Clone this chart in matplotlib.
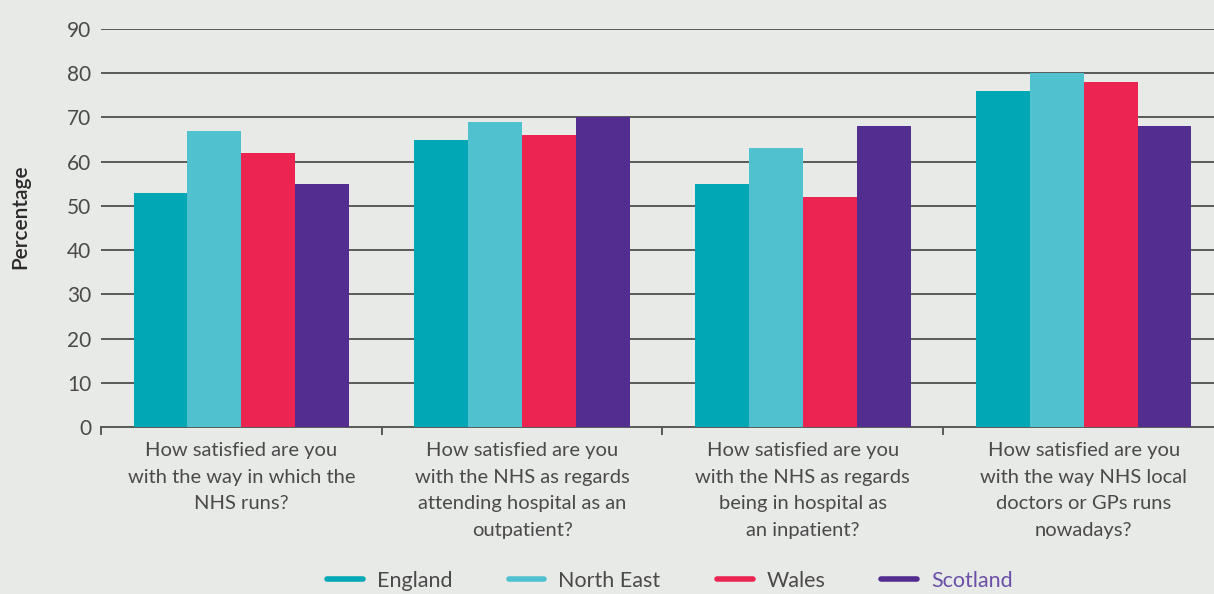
import matplotlib
matplotlib.use("Agg")
import matplotlib.pyplot as plt
import numpy as np
from matplotlib.lines import Line2D

categories = [
    "How satisfied are you\nwith the way in which the\nNHS runs?",
    "How satisfied are you\nwith the NHS as regards\nattending hospital as an\noutpatient?",
    "How satisfied are you\nwith the NHS as regards\nbeing in hospital as\nan inpatient?",
    "How satisfied are you\nwith the way NHS local\ndoctors or GPs runs\nnowadays?",
]
series_names = ["England", "North East", "Wales", "Scotland"]
england = [53, 65, 55, 76]
north_east = [67, 69, 63, 80]
wales = [62, 66, 52, 78]
scotland = [55, 70, 68, 68]
yticks = [0, 10, 20, 30, 40, 50, 60, 70, 80, 90]

colors = ["#02A7B6", "#50C1CF", "#EC2452", "#532D8F"]
bg = "#E8EAE7"
txt = "#4A4A4A"

plt.rcParams['font.family'] = ['Lato', 'DejaVu Sans']

fig = plt.figure(figsize=(12.14, 5.94), dpi=100, facecolor=bg)
ax = fig.add_axes([101/1214, 1 - 427/594, (1224-101)/1214, (427-29)/594])
ax.set_facecolor(bg)

x = np.arange(len(categories))
w = 0.192
data = [england, north_east, wales, scotland]
for i, (vals, c) in enumerate(zip(data, colors)):
    ax.bar(x + (i - 1.5) * w, vals, width=w, color=c, zorder=3, linewidth=0)

ax.set_xlim(-0.5, len(categories) - 0.5)
ax.set_ylim(0, 90)
ax.set_yticks(yticks)
ax.set_yticklabels([str(v) for v in yticks], fontsize=15, color=txt)
ax.tick_params(axis='y', length=0, pad=7)
ax.yaxis.grid(True, color="#5A5A5A", linewidth=1.4, zorder=0)
ax.set_axisbelow(True)

ax.set_xticks(x)
ax.set_xticklabels(categories, fontsize=14.5, color=txt, linespacing=1.68)
ax.tick_params(axis='x', which='major', length=0, pad=11)
ax.set_xticks(np.arange(-0.5, len(categories) + 0.5, 1), minor=True)
ax.tick_params(axis='x', which='minor', length=6, width=1.4, color="#5A5A5A", direction='out')

for s in ['top', 'right', 'left']:
    ax.spines[s].set_visible(False)
ax.spines['bottom'].set_color("#5A5A5A")
ax.spines['bottom'].set_linewidth(1.4)

fig.text(20/1214, 1 - 217/594, "Percentage", rotation=90, ha='center', va='center',
         fontsize=15, color="#2A2A2A", fontweight='semibold')

handles = [Line2D([0], [0], color=c, linewidth=4, solid_capstyle='round') for c in colors]
leg = fig.legend(handles, series_names, loc='center', bbox_to_anchor=(670/1214, 1 - 581/594),
                 ncol=4, frameon=False, fontsize=15.5, handlelength=1.67, columnspacing=2.6,
                 handletextpad=0.65, borderpad=0.1)
for t in leg.get_texts():
    t.set_color(txt)
leg.get_texts()[3].set_color("#6B4FA8")

fig.savefig("out.png", dpi=100, facecolor=bg)
